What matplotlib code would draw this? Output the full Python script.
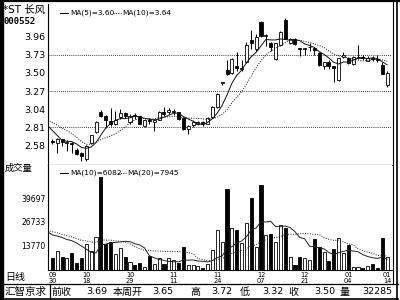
import matplotlib
matplotlib.use("Agg")
import matplotlib.pyplot as plt
import numpy as np
from matplotlib.lines import Line2D
from matplotlib.patches import Rectangle

plt.rcParams['font.family'] = ['DejaVu Sans', 'Noto Sans CJK SC']

# --- daily bars, 09/30 .. 01/14 ---
opens = [2.645, 2.61, 2.66, 2.62, 2.62, 2.53, 2.49, 2.41, 2.61, 2.75,
         3.00, 2.95, 2.89, 2.86, 2.94, 2.99, 2.88, 2.97, 2.95, 2.83,
         2.90, 2.88, 2.91, 3.00, 3.00, 3.01, 3.00, 2.93, 2.79, 2.84,
         2.85, 2.88, 2.86, 2.94, 3.07, 3.37, 3.54, 3.50, 3.58, 3.55,
         3.64, 3.91, 3.80, 4.14, 3.96, 3.87, 3.67, 3.85, 4.17, 3.88,
         3.93, 3.81, 3.80, 3.82, 3.81, 3.75, 3.58, 3.64, 3.58, 3.41,
         3.70, 3.69, 3.61, 3.69, 3.70, 3.65, 3.69, 3.67, 3.60, 3.35]
highs = [2.67, 2.68, 2.67, 2.65, 2.63, 2.55, 2.50, 2.59, 2.72, 2.89,
         3.03, 2.97, 3.06, 3.02, 3.04, 3.00, 2.98, 2.99, 2.96, 2.92,
         2.93, 2.92, 3.02, 3.07, 3.06, 3.04, 3.01, 2.94, 2.84, 2.90,
         2.89, 2.89, 2.94, 3.08, 3.24, 3.38, 3.66, 3.68, 3.76, 3.66,
         3.89, 4.04, 3.99, 4.15, 3.99, 3.89, 3.88, 4.03, 4.19, 3.94,
         3.94, 3.81, 3.81, 3.87, 3.81, 3.76, 3.64, 3.66, 3.59, 3.69,
         3.76, 3.70, 3.71, 3.85, 3.72, 3.71, 3.71, 3.72, 3.63, 3.52]
lows = [2.60, 2.49, 2.58, 2.51, 2.49, 2.46, 2.39, 2.39, 2.60, 2.74,
        2.94, 2.80, 2.83, 2.84, 2.92, 2.93, 2.86, 2.92, 2.85, 2.81,
        2.86, 2.77, 2.90, 2.95, 2.98, 2.97, 2.91, 2.78, 2.73, 2.82,
        2.84, 2.83, 2.85, 2.93, 3.06, 3.34, 3.47, 3.49, 3.52, 3.52,
        3.62, 3.80, 3.78, 3.95, 3.84, 3.77, 3.66, 3.84, 3.93, 3.86,
        3.85, 3.71, 3.72, 3.78, 3.73, 3.59, 3.55, 3.55, 3.38, 3.40,
        3.69, 3.61, 3.60, 3.67, 3.66, 3.65, 3.65, 3.64, 3.48, 3.32]
closes = [2.63, 2.67, 2.63, 2.63, 2.60, 2.48, 2.45, 2.58, 2.71, 2.88,
          2.95, 2.90, 2.86, 2.91, 2.99, 2.95, 2.95, 2.96, 2.86, 2.91,
          2.89, 2.91, 3.01, 2.98, 3.03, 3.02, 2.92, 2.79, 2.83, 2.88,
          2.88, 2.85, 2.93, 3.07, 3.23, 3.38, 3.49, 3.67, 3.56, 3.56,
          3.85, 3.87, 3.95, 3.96, 3.97, 3.82, 3.87, 4.01, 3.93, 3.92,
          3.86, 3.80, 3.81, 3.83, 3.79, 3.60, 3.63, 3.58, 3.56, 3.68,
          3.73, 3.62, 3.70, 3.70, 3.69, 3.68, 3.67, 3.66, 3.49, 3.50]
volumes = [6800, 10500, 7400, 6800, 9600, 3700, 6800, 14300, 10500, 18500,
           51900, 14300, 15400, 8700, 12000, 7400, 4600, 2800, 3700, 1900,
           8000, 3200, 6500, 3200, 6500, 5600, 4100, 13000, 2800, 2800,
           2400, 1300, 3200, 11100, 22200, 15700, 44900, 23500, 22200, 14800,
           26000, 39900, 13000, 47300, 19500, 19800, 15700, 25000, 23200, 7000,
           2800, 7000, 6600, 5600, 17500, 12800, 9800, 5000, 11700, 17800,
           9500, 14000, 1900, 1500, 1300, 2400, 3200, 1300, 18000, 7500]

# bars before the visible window (only feed the moving averages)
pre_closes = [2.99, 2.98, 2.99, 2.97, 2.96, 2.95, 2.98, 2.95, 2.68, 2.62]
pre_volumes = [22000, 22000, 25000, 21000, 24000, 23000, 26000, 20000, 24000, 22000,
               24000, 17000, 15000, 18000, 16000, 17000, 24000, 31000, 28000, 22200]

date_pos = [0, 7, 16, 25, 34, 43, 52, 61, 69]
date_labels = ["09\n30", "10\n18", "10\n29", "11\n11", "11\n24",
               "12\n07", "12\n21", "01\n04", "01\n14"]
price_ticks = [3.96, 3.73, 3.50, 3.27, 3.04, 2.81, 2.58]
price_grid = [3.73, 3.27, 2.81]
vol_ticks = [13770, 26733, 39697]

status_items = [("前收", 52, "l"), ("3.69", 107, "r"), ("本周开", 113, "l"),
                ("3.65", 173, "r"), ("高", 190, "l"), ("3.72", 232, "r"),
                ("低", 240, "l"), ("3.32", 283, "r"), ("收", 288, "l"),
                ("3.50", 335, "r"), ("量", 340, "l"), ("32285", 392, "r")]

W, H = 400, 300


def ma(values, n, pre):
    full = np.concatenate([pre, values])
    m = np.convolve(full, np.ones(n) / n, mode="valid")
    x = np.arange(len(full))[n - 1:] - len(pre)
    return x, m


fig = plt.figure(figsize=(4, 3), dpi=100)
fig.patch.set_facecolor("white")

ax = fig.add_axes([48 / W, 1 - 165 / H, 344 / W, 161 / H])
axv = fig.add_axes([48 / W, 1 - 270 / H, 344 / W, 105 / H])

x = np.arange(len(closes))
o = np.array(opens)
c = np.array(closes)
up = c >= o
fills = np.where(up, "white", "black")

# --- price panel ---
for g in price_grid:
    ax.axhline(g, color="black", lw=0.6, ls=(0, (1, 1.5)), zorder=1)
ax.vlines(x, lows, highs, color="black", lw=0.7, zorder=2)
body = np.maximum(np.abs(c - o), 0.004)
ax.bar(x, body, bottom=np.minimum(o, c), width=0.62, color=fills,
       edgecolor="black", linewidth=0.6, zorder=3)
xm5, m5 = ma(np.array(closes), 5, np.array(pre_closes))
xm10, m10 = ma(np.array(closes), 10, np.array(pre_closes))
ax.plot(xm5, m5, color="#111111", lw=0.7, zorder=4)
ax.plot(xm10, m10, color="#111111", lw=0.7, ls=(0, (1, 1.5)), zorder=4)
ax.set_xlim(-0.9, 70.0)
ax.set_ylim(2.337, 4.367)
ax.set_yticks(price_ticks)
ax.set_yticklabels([f"{t:.2f}" for t in price_ticks], fontsize=6.8)
ax.set_xticks([])
ax.tick_params(axis="y", length=0, pad=2)
for s in ["top", "right"]:
    ax.spines[s].set_visible(False)
ax.spines["left"].set_linewidth(0.8)
ax.spines["bottom"].set_color("#555555")
ax.spines["bottom"].set_linewidth(0.9)

# --- volume panel ---
axv.bar(x, volumes, width=0.64, color=fills, edgecolor="black", linewidth=0.6, zorder=3)
xv10, v10 = ma(np.array(volumes, float), 10, np.array(pre_volumes, float))
xv20, v20 = ma(np.array(volumes, float), 20, np.array(pre_volumes, float))
axv.plot(xv10, v10, color="#222222", lw=0.7, zorder=4)
axv.plot(xv20, v20, color="#222222", lw=0.7, ls=(0, (1, 1.5)), zorder=4)
axv.set_xlim(-0.9, 70.0)
axv.set_ylim(0, 58400)
axv.set_yticks(vol_ticks)
axv.set_yticklabels([str(t) for t in vol_ticks], fontsize=5.5)
axv.set_xticks(date_pos)
axv.set_xticklabels(date_labels, fontsize=4.8, linespacing=1.0)
axv.tick_params(axis="both", length=0, pad=1.5)
for s in ["top", "right"]:
    axv.spines[s].set_visible(False)
axv.spines["left"].set_linewidth(0.8)
axv.spines["bottom"].set_linewidth(0.8)


def fx(px):
    return px / W


def fy(py):
    return 1 - py / H


def hline(x0, x1, y, lw=0.8, ls="-"):
    fig.add_artist(Line2D([fx(x0), fx(x1)], [fy(y), fy(y)], color="black",
                          lw=lw, ls=ls, transform=fig.transFigure))


def vline(xp, y0, y1, lw=0.8):
    fig.add_artist(Line2D([fx(xp), fx(xp)], [fy(y0), fy(y1)], color="black",
                          lw=lw, transform=fig.transFigure))


# window frame
fig.add_artist(Rectangle((0, 0), fx(3), 1, color="black", transform=fig.transFigure))
hline(0, 400, 1.2, lw=1.6)
vline(393, 1, 284, lw=0.8)
vline(397, 0, 300, lw=1.2)
hline(0, 398, 284, lw=0.9)
hline(0, 398, 298.5, lw=1.2)
vline(50, 284, 298.5, lw=0.9)

# header texts
fig.text(fx(3), fy(9.5), "*ST 长风", fontsize=7.5, va="center", ha="left")
fig.text(fx(3), fy(21), "000552", fontsize=6.5, va="center", ha="left",
         family="DejaVu Sans Mono", weight="bold")
hline(60, 68, 13, lw=0.7)
fig.text(fx(70), fy(13), "MA(5)=3.60", fontsize=5.3, va="center", ha="left")
hline(113, 121, 13, lw=0.7, ls=(0, (1, 1.5)))
fig.text(fx(122), fy(13), "MA(10)=3.64", fontsize=5.3, va="center", ha="left")

fig.text(fx(5), fy(168), "成交量", fontsize=6.7, va="center", ha="left")
hline(60, 68, 173, lw=0.7)
fig.text(fx(70), fy(173), "MA(10)=6082", fontsize=5.3, va="center", ha="left")
hline(118, 126, 173, lw=0.7, ls=(0, (1, 1.5)))
fig.text(fx(127), fy(173), "MA(20)=7945", fontsize=5.3, va="center", ha="left")

fig.text(fx(5), fy(277), "日线", fontsize=7.2, va="center", ha="left")

# status bar
fig.text(fx(5), fy(291.5), "汇智京求", fontsize=7.6, va="center", ha="left")
for label, xp, align in status_items:
    fig.text(fx(xp), fy(291.5), label, fontsize=7.2 if not label[0].isdigit() else 6.8,
             va="center", ha="left" if align == "l" else "right")

fig.savefig("out.png", dpi=100, facecolor="white")
